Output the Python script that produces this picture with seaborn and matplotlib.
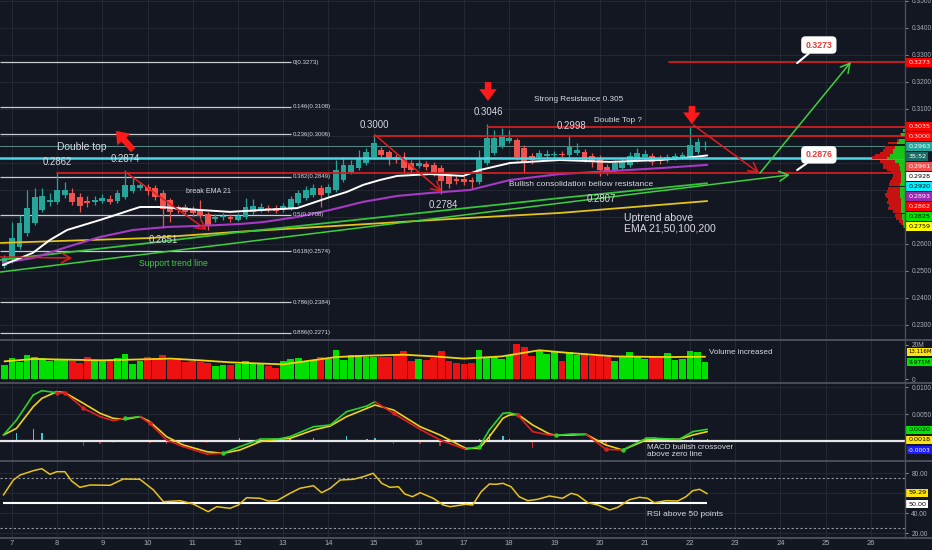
import numpy as np
import pandas as pd
import matplotlib
matplotlib.use('Agg')
import matplotlib.pyplot as plt
from matplotlib.lines import Line2D
import seaborn as sns

# ---------------- data (4h candles, x = day of month) ----------------
first_day = 6 + 5 / 6
opens = [0.2518, 0.2544, 0.2589, 0.2641, 0.2678, 0.2726, 0.2756, 0.2756, 0.2782, 0.2789,
         0.2774, 0.2759, 0.2756, 0.2759, 0.2767, 0.2759, 0.2774, 0.2796, 0.2807, 0.2811,
         0.2807, 0.2789, 0.2763, 0.2737, 0.2737, 0.2730, 0.2726, 0.2711, 0.2693, 0.2700,
         0.2700, 0.2689, 0.2700, 0.2719, 0.2726, 0.2733, 0.2733, 0.2726, 0.2733, 0.2752,
         0.2770, 0.2782, 0.2807, 0.2789, 0.2800, 0.2837, 0.2867, 0.2881, 0.2900, 0.2922,
         0.2948, 0.2941, 0.2922, 0.2922, 0.2900, 0.2889, 0.2896, 0.2893, 0.2881, 0.2856,
         0.2841, 0.2841, 0.2837, 0.2830, 0.2900, 0.2937, 0.2963, 0.2981, 0.2985, 0.2956,
         0.2926, 0.2922, 0.2926, 0.2930, 0.2933, 0.2930, 0.2937, 0.2941, 0.2926, 0.2915,
         0.2885, 0.2874, 0.2881, 0.2893, 0.2911, 0.2922, 0.2926, 0.2919, 0.2915, 0.2919,
         0.2922, 0.2922, 0.2941, 0.2961]
closes = [0.2548, 0.2622, 0.2678, 0.2733, 0.2774, 0.2778, 0.2763, 0.2800, 0.2800, 0.2756,
          0.2741, 0.2752, 0.2763, 0.2770, 0.2756, 0.2789, 0.2819, 0.2819, 0.2819, 0.2796,
          0.2774, 0.2730, 0.2719, 0.2726, 0.2719, 0.2715, 0.2704, 0.2670, 0.2700, 0.2704,
          0.2693, 0.2704, 0.2737, 0.2741, 0.2737, 0.2726, 0.2722, 0.2741, 0.2767, 0.2789,
          0.2800, 0.2807, 0.2782, 0.2811, 0.2874, 0.2893, 0.2893, 0.2915, 0.2941, 0.2974,
          0.2930, 0.2919, 0.2911, 0.2881, 0.2874, 0.2900, 0.2885, 0.2863, 0.2833, 0.2822,
          0.2833, 0.2830, 0.2830, 0.2919, 0.2993, 0.2993, 0.3004, 0.2993, 0.2922, 0.2900,
          0.2911, 0.2937, 0.2933, 0.2933, 0.2930, 0.2959, 0.2948, 0.2911, 0.2904, 0.2874,
          0.2867, 0.2900, 0.2904, 0.2926, 0.2937, 0.2933, 0.2904, 0.2907, 0.2922, 0.2926,
          0.2930, 0.2967, 0.2978, 0.2963]
highs = [0.2559, 0.2680, 0.2707, 0.2800, 0.2807, 0.2807, 0.2789, 0.2863, 0.2830, 0.2807,
         0.2789, 0.2778, 0.2778, 0.2785, 0.2782, 0.2800, 0.2874, 0.2844, 0.2830, 0.2822,
         0.2819, 0.2800, 0.2770, 0.2744, 0.2748, 0.2741, 0.2763, 0.2719, 0.2711, 0.2715,
         0.2711, 0.2715, 0.2770, 0.2767, 0.2752, 0.2744, 0.2744, 0.2752, 0.2778, 0.2800,
         0.2815, 0.2822, 0.2819, 0.2822, 0.2911, 0.2919, 0.2911, 0.2948, 0.2956, 0.3004,
         0.2959, 0.2948, 0.2933, 0.2941, 0.2911, 0.2911, 0.2907, 0.2904, 0.2893, 0.2867,
         0.2852, 0.2852, 0.2848, 0.2948, 0.3046, 0.3022, 0.3030, 0.3022, 0.2993, 0.2967,
         0.2937, 0.2948, 0.2948, 0.2944, 0.2944, 0.3000, 0.2974, 0.2952, 0.2937, 0.2930,
         0.2896, 0.2911, 0.2919, 0.2941, 0.2956, 0.2948, 0.2937, 0.2930, 0.2933, 0.2937,
         0.2941, 0.3035, 0.2993, 0.2981]
lows = [0.2511, 0.2530, 0.2581, 0.2630, 0.2670, 0.2719, 0.2741, 0.2748, 0.2770, 0.2744,
        0.2719, 0.2737, 0.2744, 0.2752, 0.2748, 0.2752, 0.2767, 0.2789, 0.2800, 0.2782,
        0.2763, 0.2659, 0.2681, 0.2715, 0.2711, 0.2704, 0.2696, 0.2652, 0.2681, 0.2689,
        0.2681, 0.2685, 0.2693, 0.2711, 0.2719, 0.2719, 0.2715, 0.2719, 0.2726, 0.2744,
        0.2763, 0.2774, 0.2737, 0.2778, 0.2793, 0.2830, 0.2859, 0.2874, 0.2893, 0.2915,
        0.2919, 0.2893, 0.2900, 0.2867, 0.2859, 0.2881, 0.2874, 0.2852, 0.2785, 0.2807,
        0.2822, 0.2819, 0.2807, 0.2822, 0.2893, 0.2930, 0.2956, 0.2974, 0.2911, 0.2863,
        0.2896, 0.2915, 0.2915, 0.2922, 0.2922, 0.2919, 0.2930, 0.2904, 0.2885, 0.2852,
        0.2856, 0.2867, 0.2874, 0.2885, 0.2904, 0.2911, 0.2893, 0.2896, 0.2904, 0.2911,
        0.2915, 0.2915, 0.2933, 0.2948]
volume_m = [8.4, 12.4, 9.8, 14.3, 12.9, 12.4, 10.4, 12.0, 11.4, 10.8,
            9.4, 12.7, 10.4, 10.4, 10.4, 12.4, 14.9, 9.0, 10.4, 12.9,
            12.4, 13.9, 11.0, 11.4, 9.8, 10.4, 9.8, 9.4, 7.5, 8.4,
            8.4, 9.0, 10.8, 9.4, 9.4, 7.8, 6.5, 10.4, 11.8, 12.4,
            10.4, 11.0, 12.9, 11.8, 17.3, 11.4, 14.3, 14.3, 12.9, 12.9,
            12.9, 12.9, 14.9, 16.7, 10.4, 11.8, 11.4, 12.4, 16.3, 10.8,
            9.4, 9.0, 9.4, 17.3, 12.4, 12.9, 12.0, 14.3, 20.6, 18.6,
            13.7, 16.7, 14.9, 16.3, 10.8, 15.7, 14.3, 15.3, 13.3, 14.3,
            12.9, 10.8, 12.9, 15.7, 13.3, 11.8, 13.3, 12.4, 15.3, 11.4,
            12.0, 16.3, 15.7, 10.0]
vol_ma_idx = [0, 4, 8, 13, 17, 22, 26, 30, 37, 44, 48, 53, 57, 61, 66, 71, 75, 81, 88, 93]
vol_ma = [10.4, 11.8, 11.4, 11.0, 11.4, 12.0, 11.0, 9.8, 8.6, 12.9, 13.7, 14.3, 13.3, 12.0,
          13.3, 16.9, 15.3, 13.3, 12.9, 13.1]

ema21_days = [6.80, 7.46, 7.84, 8.22, 8.95, 9.83, 10.27, 11.16, 11.82, 12.55, 13.31, 14.04, 14.41,
              14.77, 15.14, 15.52, 16.25, 16.98, 17.35, 18.02, 19.12, 20.23, 21.34, 22.07, 22.38]
ema21 = [0.2522, 0.2567, 0.2615, 0.2652, 0.2689, 0.2737, 0.2737, 0.2726, 0.2719, 0.2726, 0.2733,
         0.2774, 0.2793, 0.2819, 0.2837, 0.2852, 0.2859, 0.2852, 0.2874, 0.2900, 0.2911, 0.2904,
         0.2911, 0.2922, 0.2928]
ema50_days = [6.80, 7.46, 8.22, 8.95, 9.68, 10.43, 11.16, 12.04, 12.55, 13.31, 14.04, 14.77, 15.52,
              16.25, 17.13, 18.02, 19.12, 20.23, 21.34, 22.38]
ema50 = [0.2530, 0.2548, 0.2589, 0.2626, 0.2652, 0.2663, 0.2667, 0.2674, 0.2681, 0.2700, 0.2726,
         0.2756, 0.2778, 0.2789, 0.2800, 0.2837, 0.2859, 0.2870, 0.2881, 0.2893]
ema_long_days = [6.75, 10.05, 11.89, 13.37, 17.04, 19.12, 22.38]
ema100 = [0.2541, 0.2604, 0.2641, 0.2667, 0.2733, 0.2770, 0.2825]
ema200 = [0.2604, 0.2622, 0.2644, 0.2659, 0.2696, 0.2715, 0.2759]

fib_ratio = ['0', '0.146', '0.236', '0.382', '0.5', '0.618', '0.786', '0.886']
fib_price = [0.3273, 0.3108, 0.3006, 0.2849, 0.2708, 0.2574, 0.2384, 0.2271]
fib_end = 13.17
res_levels = [0.2862, 0.3000, 0.3035, 0.3273]
res_start = [7.996, 15.01, 17.53, 21.54]
cyan_level = 0.2920
last_price = 0.2963

# volume profile (visible range), arbitrary units
vp_price = [0.3022, 0.3004, 0.2985, 0.2974, 0.2959, 0.2948, 0.2937, 0.2926, 0.2919, 0.2907,
            0.2896, 0.2885, 0.2874, 0.2863, 0.2852, 0.2841, 0.2830, 0.2819, 0.2807, 0.2796,
            0.2785, 0.2774, 0.2763, 0.2752, 0.2741, 0.2730, 0.2719, 0.2707, 0.2696, 0.2685,
            0.2674, 0.2663]
vp_up = [2, 4, 6, 8, 10, 12, 12, 15, 18, 10, 6, 5, 5, 4, 4, 4, 4, 5, 5, 5, 5, 5, 4, 4, 4, 4, 4, 3, 3, 2, 2, 1]
vp_down = [0, 1, 2, 9, 10, 10, 13, 15, 15, 15, 16, 17, 13, 10, 8, 9, 11, 11, 12, 13, 15, 14, 13, 14,
           12, 13, 8, 7, 6, 4, 2, 1]

macd_days = [6.81, 7.10, 7.47, 7.66, 7.99, 8.17, 8.58, 8.95, 9.24, 9.50, 9.83, 10.05, 10.42, 10.79,
             11.31, 11.67, 12.04, 12.49, 12.86, 13.15, 13.67, 14.04, 14.40, 14.85, 15.03, 15.44,
             16.03, 16.47, 17.04, 17.34, 17.56, 17.86, 18.00, 18.19, 18.52, 18.89, 19.04, 19.40,
             19.70, 20.14, 20.51, 21.03, 21.25, 21.76, 22.06, 22.38]
macd = [0.00111, 0.00389, 0.00852, 0.00932, 0.00895, 0.00895, 0.00605, 0.00451, 0.00377, 0.00420,
        0.00451, 0.00327, 0.00019, -0.00105, -0.00241, -0.00228, -0.00105, 0.00031, 0.00031, 0.00080,
        0.00265, 0.00296, 0.00543, 0.00648, 0.00728, 0.00512, 0.00216, 0.00019, -0.00154, -0.00105,
        0.00204, 0.00512, 0.00525, 0.00481, 0.00173, 0.00111, 0.00105, 0.00130, 0.00123, -0.00154,
        -0.00167, 0.00049, 0.00049, 0.00031, 0.00173, 0.00216]
signal = [0.00111, 0.00235, 0.00636, 0.00790, 0.00914, 0.00895, 0.00698, 0.00512, 0.00420, 0.00401,
          0.00451, 0.00358, 0.00080, -0.00074, -0.00198, -0.00228, -0.00167, -0.00012, 0.00031, 0.00049,
          0.00204, 0.00278, 0.00451, 0.00605, 0.00667, 0.00574, 0.00265, 0.00111, -0.00136, -0.00136,
          0.00080, 0.00420, 0.00481, 0.00494, 0.00296, 0.00130, 0.00105, 0.00111, 0.00123, -0.00074,
          -0.00167, 0.00019, 0.00031, 0.00031, 0.00111, 0.00173]

rsi_days = [6.81, 7.03, 7.18, 7.47, 7.66, 7.84, 7.99, 8.17, 8.32, 8.50, 8.73, 9.17, 9.46, 9.83, 10.13,
            10.35, 10.72, 11.01, 11.34, 11.53, 11.82, 12.01, 12.19, 12.49, 12.67, 12.86, 13.15, 13.37,
            13.67, 13.85, 14.04, 14.26, 14.55, 14.77, 14.99, 15.18, 15.36, 15.55, 15.69, 15.86, 16.03,
            16.32, 16.54, 16.69, 17.04, 17.19, 17.38, 17.56, 17.71, 17.86, 18.04, 18.22, 18.41, 18.63,
            18.89, 19.18, 19.37, 19.51, 19.74, 19.96, 20.22, 20.40, 20.66, 20.88, 21.06, 21.21, 21.47,
            21.73, 21.91, 22.06, 22.21, 22.38]
rsi = [58, 73, 78, 82.3, 84.3, 78.7, 81.3, 81.3, 72, 65.7, 68, 67.7, 74, 73.7, 63, 51.3, 52.3, 49,
       41.3, 46.3, 44.7, 48, 55.3, 54.7, 52, 52.3, 59.7, 64.7, 67.3, 60.3, 64.7, 73, 73.7, 76.3, 79.7,
       69.7, 65.7, 66.3, 59, 56.3, 60.3, 54.7, 48, 46.3, 48.7, 48, 61.3, 69, 68.7, 69.7, 66.3, 56.3,
       52.3, 53.7, 57, 54.7, 59.7, 58, 50.3, 48, 43, 45.7, 53.3, 55.7, 54.7, 50.3, 52.3, 52, 56.3,
       62.3, 63.7, 59.3]

day_ticks = list(range(7, 27))

# ---------------- style ----------------
BG = '#131722'
GRID = '#242833'
SEP = '#4a4e59'
AXT = '#a9acb5'
TXT = '#d8dae0'
TEAL = '#26a69a'
SALMON = '#ef5350'
RED = '#e21d1d'

sns.set_theme(style='dark', rc={'axes.facecolor': BG, 'figure.facecolor': BG,
                                'text.color': TXT, 'axes.edgecolor': SEP})
plt.rcParams['font.family'] = ['Liberation Sans', 'DejaVu Sans']

W, H = 932, 550
fig = plt.figure(figsize=(W / 100, H / 100), dpi=100)


def panel(top, bottom):
    return [0, 1 - bottom / H, 905 / W, (bottom - top) / H]


ax = fig.add_axes(panel(0, 339))
axv = fig.add_axes(panel(341, 382), sharex=ax)
axm = fig.add_axes(panel(384, 460), sharex=ax)
axr = fig.add_axes(panel(462, 537), sharex=ax)

for a in (ax, axv, axm, axr):
    a.set_facecolor(BG)
    for s in a.spines.values():
        s.set_visible(False)
    a.grid(True, color=GRID, lw=0.8)
    a.yaxis.tick_right()
    a.tick_params(axis='y', colors=AXT, labelsize=4.8, length=2.5, pad=2, width=0.6)
    a.tick_params(axis='x', length=0, labelbottom=False)
    a.set_axisbelow(True)

ax.set_xlim(6.7345, 26.756)
ax.set_xticks(day_ticks)
axr.tick_params(axis='x', labelbottom=True, colors=AXT, labelsize=5.5, pad=2)
axr.set_xticklabels([str(d) for d in day_ticks])

# ---------------- price panel ----------------
ax.set_ylim(0.22481, 0.35037)
price_ticks = [round(0.23 + 0.01 * k, 2) for k in range(13)]
ax.set_yticks(price_ticks)
ax.set_yticklabels(['' if 0.265 < p < 0.305 else f'{p:.4f}' for p in price_ticks])

days = first_day + np.arange(len(opens)) / 6
o, c, hi, lo = map(np.array, (opens, closes, highs, lows))
ccol = np.where(c >= o, TEAL, SALMON)
ax.vlines(days, lo, hi, colors=ccol, lw=0.9, zorder=3)
ax.bar(days, np.maximum(np.abs(c - o), 0.00025), bottom=np.minimum(o, c), width=0.13,
       color=ccol, linewidth=0, zorder=3)

sns.lineplot(x=ema_long_days, y=ema200, ax=ax, color='#e3c21a', lw=1.3, sort=False, zorder=4)
sns.lineplot(x=ema_long_days, y=ema100, ax=ax, color='#35c53a', lw=1.3, sort=False, zorder=4)
sns.lineplot(x=ema50_days, y=ema50, ax=ax, color='#a63ac4', lw=1.5, sort=False, zorder=4)
sns.lineplot(x=ema21_days, y=ema21, ax=ax, color='white', lw=1.4, sort=False, zorder=4)

# fibonacci levels
ax.hlines(fib_price, 6.7345, fib_end, color='#c9ccd3', lw=0.9, zorder=2)
for r, p in zip(fib_ratio, fib_price):
    ax.text(fib_end + 0.05, p, f'{r}({p:.4f})', fontsize=4.4, color=TXT, va='center', zorder=6)

# horizontal levels
x0, x1 = ax.get_xlim()
ax.axhline(last_price, color='#5b8c88', lw=0.7, zorder=2)
ax.axhline(cyan_level, color='#4dd6e6', lw=1.8, zorder=5)
for lvl, st in zip(res_levels, res_start):
    ax.axhline(lvl, xmin=(st - x0) / (x1 - x0), color='#d11f1f', lw=1.3, zorder=5)

# arrows
arrows = [((9.50, 0.2867), (11.31, 0.2652), RED), ((15.03, 0.3004), (16.51, 0.2793), RED),
          ((22.07, 0.3041), (23.53, 0.2863), RED), ((6.7345, 0.2552), (8.33, 0.2548), RED),
          ((23.55, 0.2863), (25.56, 0.3274), '#3fcf3f'), ((6.7345, 0.2496), (24.21, 0.2856), '#3fcf3f')]
for start, end, col in arrows:
    ax.annotate('', xy=end, xytext=start, zorder=5,
                arrowprops=dict(arrowstyle='->,head_length=0.55,head_width=0.3', color=col, lw=1.1,
                                shrinkA=0, shrinkB=0))

big = dict(arrowstyle='simple,head_length=0.7,head_width=1.05,tail_width=0.38', fc='#ff1a1a',
           ec='none', shrinkA=0, shrinkB=0)
ax.annotate('', xy=(17.53, 0.3130), xytext=(17.53, 0.3200), arrowprops=big, zorder=6)
ax.annotate('', xy=(22.04, 0.3044), xytext=(22.04, 0.3111), arrowprops=big, zorder=6)
ax.annotate('', xy=(9.30, 0.3019), xytext=(9.68, 0.2948), arrowprops=big, zorder=6)

notes = [('Double top', 8.55, 0.2959, 7.4), ('0.2862', 8.00, 0.2902, 6.9), ('0.2874', 9.50, 0.2915, 6.9),
         ('break EMA 21', 11.34, 0.2796, 5.1), ('0.2651', 10.34, 0.2615, 6.9),
         ('0.3000', 15.01, 0.3041, 6.9), ('0.2784', 16.54, 0.2745, 6.9), ('0.3046', 17.53, 0.3089, 6.9),
         ('Strong Resistance 0.305', 19.54, 0.3137, 5.9), ('0.2998', 19.38, 0.3037, 6.9),
         ('Double Top ?', 20.41, 0.3056, 5.9), ('Bullish consolidation bellow resistance', 19.60, 0.2822, 6.0),
         ('0.2807', 20.04, 0.2767, 6.9)]
for t, x, y, fs in notes:
    ax.text(x, y, t, fontsize=fs, color=TXT, ha='center', va='center', zorder=6)
ax.text(10.58, 0.2526, 'Support trend line', fontsize=6.2, color='#3fcf3f', ha='center', va='center', zorder=6)
ax.text(20.54, 0.2678, 'Uptrend above\nEMA 21,50,100,200', fontsize=7.6, color=TXT, ha='left',
        va='center', linespacing=1.05, zorder=6)

for txt, pt, xy in [('0.3273', (24.37, 0.3270), (24.85, 0.3337)), ('0.2876', (24.37, 0.2874), (24.85, 0.2930))]:
    ax.annotate(txt, xy=pt, xytext=xy, fontsize=6.3, color='#e53935', fontweight='bold', ha='center',
                va='center', zorder=7, bbox=dict(boxstyle='round,pad=0.4', fc='white', ec='white'),
                arrowprops=dict(arrowstyle='-', color='white', lw=1.5, shrinkA=0, shrinkB=0))

# volume profile on the right side of the price panel
axp = ax.twiny()
axp.set_xlim(max(np.add(vp_up, vp_down)) * 905 / 33, 0)
axp.barh(vp_price, vp_up, height=0.0011, color='#18c418', linewidth=0, zorder=2)
axp.barh(vp_price, vp_down, left=vp_up, height=0.0011, color='#c81212', linewidth=0, zorder=2)
axp.set_xticks([])
axp.grid(False)
for s in axp.spines.values():
    s.set_visible(False)


def rlabel(a, y, text, fc, tc, fs=4.6):
    a.text(1.0035, y, text, transform=a.get_yaxis_transform(), fontsize=fs, color=tc, ha='left',
           va='center', clip_on=False, zorder=8, family='DejaVu Sans',
           bbox=dict(boxstyle='square,pad=0.28', fc=fc, ec='none'))


rlabel(ax, 0.3273, '0.3273', '#ff0000', 'white')
stack = [('0.3035', '#ff0000', 'white'), ('0.3000', '#ff0000', 'white'), ('0.2963', TEAL, 'white'),
         ('35:52', '#1d6b64', 'white'), ('0.2961', SALMON, 'white'), ('0.2928', 'white', 'black'),
         ('0.2920', '#00f0ff', 'black'), ('0.2893', '#9c27b0', 'white'), ('0.2862', '#ff0000', 'white'),
         ('0.2825', '#00e600', 'black'), ('0.2759', '#ffff00', 'black')]
for k, (t, fc, tc) in enumerate(stack):
    rlabel(ax, 0.3035 - k * 0.0037, t, fc, tc)

# ---------------- volume panel ----------------
vcol = np.where(c >= o, '#00e000', '#ee1111')
axv.bar(days, volume_m, width=0.15, color=vcol, linewidth=0, zorder=3)
sns.lineplot(x=days[vol_ma_idx], y=vol_ma, ax=axv, color='#f2d40c', lw=1.3, sort=False, zorder=4)
axv.set_ylim(-1.76, 22.35)
axv.set_yticks([0, 20])
axv.set_yticklabels(['0', '20M'])
axv.grid(False, axis='y')
axv.text(22.42, 15.3, 'Volume increased', fontsize=5.8, color=TXT, ha='left', va='center', zorder=6)
rlabel(axv, 15.9, '13.116M', '#ffe20a', 'black', fs=3.9)
rlabel(axv, 10.0, '9.971M', '#00e600', 'black', fs=4.2)

# ---------------- MACD panel ----------------
md, mv, sv = np.array(macd_days), np.array(macd), np.array(signal)
hist = mv - sv
axm.bar(md, hist, width=0.03, color=np.where(hist >= 0, '#3fc8dc', '#c62828'), linewidth=0, zorder=2)
axm.axhline(0, color='#e6e6e6', lw=1.6, zorder=3)
sns.lineplot(x=md, y=sv, ax=axm, color='#f0d21e', lw=1.2, sort=False, zorder=4)
for i in range(len(md) - 1):
    above = mv[i] + mv[i + 1] >= sv[i] + sv[i + 1]
    axm.plot(md[i:i + 2], mv[i:i + 2], color='#2bd22b' if above else '#e02020', lw=1.2, zorder=5)
    if i > 0 and (mv[i] - sv[i] >= 0) != (mv[i - 1] - sv[i - 1] >= 0):
        axm.plot(md[i], mv[i], 'o', ms=2.2, color='#2bd22b' if above else '#e02020', zorder=6)
axm.set_ylim(-0.00352, 0.01056)
axm.set_yticks([0, 0.005, 0.01])
axm.set_yticklabels(['', '0.0050', '0.0100'])
axm.text(21.05, -0.00185, 'MACD bullish crossover\nabove zero line', fontsize=5.9, color=TXT,
         ha='left', va='center', linespacing=1.0, zorder=6)
rlabel(axm, 0.00204, '0.0020', '#00e600', 'black')
rlabel(axm, 0.00019, '0.0018', '#ffe20a', 'black')
rlabel(axm, -0.00167, '-0.0003', '#1a1aff', 'white', fs=4.2)

# ---------------- RSI panel ----------------
axr.set_ylim(16, 91)
axr.set_yticks([20, 40, 60, 80])
axr.set_yticklabels(['20.00', '40.00', '', '80.00'])
for lvl in (75, 25):
    axr.axhline(lvl, color='#9598a1', lw=0.8, ls=(0, (2, 2)), zorder=2)
axr.hlines(50, rsi_days[0], rsi_days[-1], color='white', lw=1.5, zorder=3)
sns.lineplot(x=rsi_days, y=rsi, ax=axr, color='#e6c41c', lw=1.1, sort=False, zorder=4)
axr.text(21.05, 38, 'RSI above 50 points', fontsize=6.0, color=TXT, ha='left', va='center', zorder=6)
rlabel(axr, 60, '59.29', '#ffe20a', 'black')
rlabel(axr, 49, '50.00', 'white', 'black')

for a in (ax, axv, axm, axr):
    a.set_xlabel('')
    a.set_ylabel('')
    if a.get_legend() is not None:
        a.get_legend().remove()

# panel separators
for ypx in (340, 383, 461, 538):
    fig.add_artist(Line2D([0, 1], [1 - ypx / H] * 2, transform=fig.transFigure, color=SEP, lw=1.4))
fig.add_artist(Line2D([905 / W] * 2, [1 - 538 / H, 1], transform=fig.transFigure, color=SEP, lw=1.0))

fig.savefig('out.png', dpi=100, facecolor=BG)
